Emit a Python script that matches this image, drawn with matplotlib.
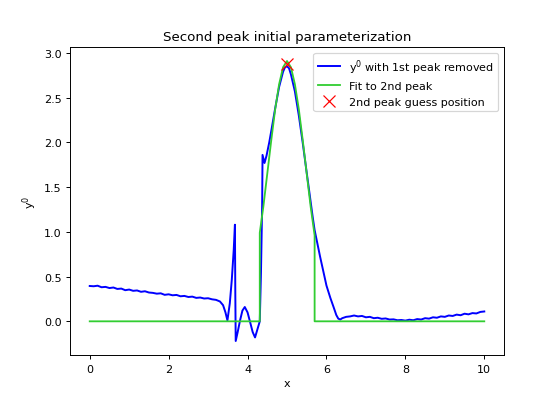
import matplotlib
matplotlib.use("Agg")
import matplotlib.pyplot as plt
import numpy as np

# signal with the first peak removed
x_signal = [0.0, 0.1, 0.2, 0.3, 0.4, 0.5, 0.6, 0.7, 0.8, 0.9,
            1.0, 1.1, 1.2, 1.3, 1.4, 1.5, 1.6, 1.7, 1.8, 1.9,
            2.0, 2.1, 2.2, 2.3, 2.4, 2.5, 2.6, 2.7, 2.8, 2.9,
            3.0, 3.1, 3.2, 3.3, 3.38, 3.44, 3.49, 3.55, 3.60, 3.65,
            3.68, 3.69, 3.70, 3.75, 3.81, 3.87, 3.93, 4.0, 4.06, 4.13,
            4.19, 4.27, 4.31, 4.34, 4.37, 4.38, 4.43, 4.48, 4.55, 4.61,
            4.7, 4.8, 4.9, 4.95, 5.0, 5.05, 5.1, 5.2, 5.3, 5.4,
            5.5, 5.58, 5.65, 5.70, 5.84, 6.0, 6.1, 6.18, 6.25, 6.30,
            6.35, 6.4, 6.5, 6.6, 6.7, 6.8, 6.9, 7.0, 7.1, 7.2,
            7.3, 7.4, 7.5, 7.6, 7.7, 7.8, 7.9, 8.0, 8.1, 8.2,
            8.3, 8.4, 8.5, 8.6, 8.7, 8.8, 8.9, 9.0, 9.1, 9.2,
            9.3, 9.4, 9.5, 9.6, 9.7, 9.8, 9.9, 10.0]
y_signal = [0.395, 0.392, 0.398, 0.381, 0.385, 0.372, 0.378, 0.362, 0.366, 0.348,
            0.355, 0.341, 0.345, 0.330, 0.336, 0.322, 0.318, 0.309, 0.313, 0.296,
            0.302, 0.291, 0.295, 0.280, 0.284, 0.272, 0.276, 0.262, 0.266, 0.255,
            0.258, 0.246, 0.240, 0.222, 0.18, 0.10, 0.01, 0.20, 0.46, 0.80,
            1.08, 0.30, -0.22, -0.12, 0.01, 0.12, 0.16, 0.10, 0.0, -0.12,
            -0.18, -0.06, 0.0, 0.54, 1.30, 1.86, 1.77, 1.85, 2.0, 2.15,
            2.38, 2.62, 2.79, 2.84, 2.85, 2.83, 2.76, 2.57, 2.30, 1.99,
            1.66, 1.40, 1.17, 1.02, 0.72, 0.40, 0.26, 0.16, 0.07, 0.03,
            0.02, 0.035, 0.05, 0.055, 0.065, 0.055, 0.06, 0.045, 0.05, 0.035,
            0.04, 0.028, 0.032, 0.02, 0.022, 0.012, 0.015, 0.008, 0.018, 0.012,
            0.025, 0.02, 0.035, 0.03, 0.045, 0.04, 0.055, 0.05, 0.065, 0.06,
            0.075, 0.068, 0.085, 0.078, 0.092, 0.088, 0.105, 0.11]

# fitted second peak (zero outside the fit window)
x_fit = [0.0, 4.31, 4.31, 4.4, 4.5, 4.6, 4.7, 4.8, 4.9, 5.0,
         5.1, 5.2, 5.3, 5.4, 5.5, 5.6, 5.7, 5.7, 10.0]
y_fit = [0.0, 0.0, 0.99, 1.28, 1.65, 2.02, 2.37, 2.65, 2.84, 2.91,
         2.84, 2.65, 2.37, 2.02, 1.65, 1.28, 0.96, 0.0, 0.0]

# guess position of the second peak
peak_x = [5.0]
peak_y = [2.876]

plt.rcParams["font.size"] = 9.2

fig, ax = plt.subplots(figsize=(6.4, 4.5714), dpi=87.5)
ax.plot(x_signal, y_signal, color="blue", linewidth=1.6,
        label="$\\mathregular{y^0}$ with 1st peak removed")
ax.plot(x_fit, y_fit, color="limegreen", label="Fit to 2nd peak")
ax.plot(peak_x, peak_y, "x", color="red", markersize=10,
        label="2nd peak guess position")
ax.set_xlabel("x")
ax.set_ylabel("$\\mathregular{y^0}$")
ax.set_title("Second peak initial parameterization")
ax.legend(loc="upper right")

plt.savefig("out.png")
